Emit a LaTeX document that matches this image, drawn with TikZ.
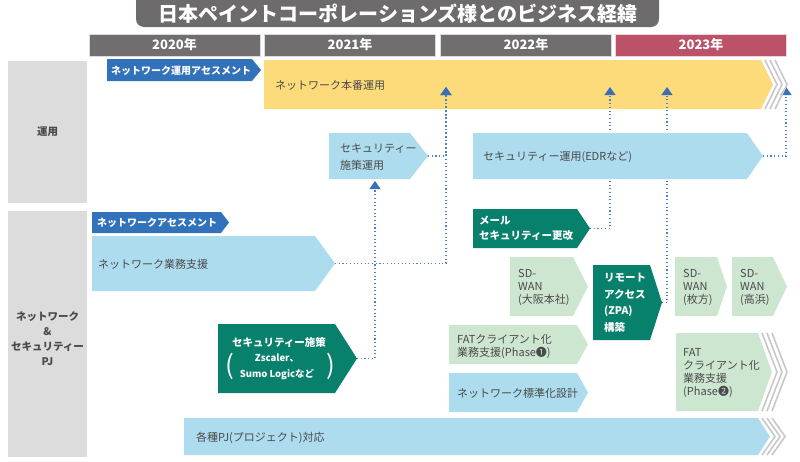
\documentclass[tikz,border=0pt]{standalone}
\usepackage{fontspec}
\setmainfont{Noto Sans CJK JP}
\usetikzlibrary{arrows.meta}

\definecolor{titlegray}{HTML}{6D6B6B}
\definecolor{yeargray}{HTML}{706E6E}
\definecolor{yearred}{HTML}{BB5267}
\definecolor{sidegray}{HTML}{DCDCDC}
\definecolor{opsyellow}{HTML}{FDDB7A}
\definecolor{skyblue}{HTML}{ADDCEE}
\definecolor{deepgreen}{HTML}{07806C}
\definecolor{palegreen}{HTML}{CDE6D0}
\definecolor{assessblue}{HTML}{3272BA}
\definecolor{chevgray}{HTML}{C8C8C8}
\definecolor{linkblue}{HTML}{4A7FCA}
\definecolor{markblue}{HTML}{3A6FB8}
\definecolor{txt}{HTML}{4A4A4A}

\pgfdeclarelayer{back}
\pgfdeclarelayer{mid}
\pgfsetlayers{back,mid,main}

% pentagon arrow box: style, tip name, left x, top y, body right x, tip x, bottom y
\newcommand\pentbox[7]{%
  \fill[#1] (#3,#4) -- (#5,#4) -- (#6,{(#4+#7)/2}) -- (#5,#7) -- (#3,#7) -- cycle;
  \coordinate (#2) at (#6,{(#4+#7)/2});}
% three trailing chevrons: first x, top y, bottom y, tip offset
\newcommand\chevrons[4]{%
  \foreach \k in {0,1,2}{%
    \draw[chevline] ({#1+5*\k},#2) -- ({#1+5*\k+#4},{(#2+#3)/2}) -- ({#1+5*\k},#3);}}

% multi-line labels are placed by the baseline of their last line
\tikzset{
  year/.style={fill=#1, draw=white!75!#1, line width=0.8pt, minimum width=171pt,
    minimum height=22pt, inner sep=0pt, text=white,
    font=\bfseries\fontsize{13}{13}\selectfont},
  side/.style={fill=sidegray, inner sep=0pt},
  sidetext/.style={text=txt, align=center, inner sep=0pt,
    font=\bfseries\fontsize{10.5}{15}\selectfont},
  lbl/.style={text=txt, inner sep=0pt, align=left, anchor=base west,
    font=\fontsize{11}{13}\selectfont},
  wlbl/.style={text=white, inner sep=0pt, align=left, anchor=base west,
    font=\bfseries\fontsize{10.5}{15}\selectfont},
  chevline/.style={draw=chevgray, line width=1.6pt},
  link/.style={draw=linkblue, line width=1.1pt, dash pattern=on 1.1pt off 2.6pt,
    -{Triangle[width=11pt,length=8pt,fill=markblue,color=markblue]}},
}

\begin{document}
\begin{tikzpicture}[x=1pt,y=-1pt]
\useasboundingbox (0,0) rectangle (800,461);

% title tab
\fill[titlegray, rounded corners=8pt] (136,0) |- (659,27) -- (659,0);
\node[text=white, inner sep=0pt, anchor=base, font=\bfseries\fontsize{20}{20}\selectfont]
  (title) at (398,21.5) {日本ペイントコーポレーションズ様とのビジネス経緯};

% year header
\node[year=yeargray] (y2020) at (174.5,45) {2020年};
\node[year=yeargray] (y2021) at (350,45) {2021年};
\node[year=yeargray] (y2022) at (526,45) {2022年};
\node[year=yearred]  (y2023) at (701,45) {2023年};

% row labels
\node[side, minimum width=79pt, minimum height=142pt] (rowops) at (47.5,132) {};
\node[sidetext] (rowopslbl) at (47.5,132) {運用};
\node[side, minimum width=79pt, minimum height=246pt] (rowpj) at (47.5,334) {};
\node[sidetext] (rowpjlbl) at (47.5,339) {ネットワーク\\\&\\セキュリティー\\PJ};

% production operation bar
\begin{pgfonlayer}{back}
\pentbox{opsyellow}{prod}{264}{60}{761}{773}{109}
\node[lbl] (prodlbl) at (275,89) {ネットワーク本番運用};
\end{pgfonlayer}
\chevrons{765}{60}{109}{12}
\coordinate (m1) at (446,87);
\coordinate (m2) at (610,87);
\coordinate (m3) at (667,87);
\coordinate (m4) at (786,87);

% assessments
\pentbox{assessblue}{opsassess}{107}{59}{252}{261}{81}
\node[wlbl, font=\bfseries\fontsize{10}{10}\selectfont] (opsassesslbl) at (111,74) {ネットワーク運用アセスメント};
\pentbox{assessblue}{nwassess}{92}{212}{221}{229}{233}
\node[wlbl, font=\bfseries\fontsize{10}{10}\selectfont] (nwassesslbl) at (97,226) {ネットワークアセスメント};

% security operation
\pentbox{skyblue}{secpol}{329}{133}{410}{428}{179}
\node[lbl, font=\fontsize{11}{17}\selectfont] (secpollbl) at (340,169) {セキュリティー\\施策運用};
\coordinate (m0) at (375,181);
\pentbox{skyblue}{edr}{473}{133}{747}{763}{179}
\node[lbl] (edrlbl) at (483,160) {セキュリティー運用(EDRなど)};

% network support
\pentbox{skyblue}{nwsup}{92}{236}{315}{335}{291}
\node[lbl] (nwsuplbl) at (98,268) {ネットワーク業務支援};

% mail security
\pentbox{deepgreen}{mail}{473}{209}{577}{590}{248}
\node[wlbl] (maillbl) at (479,239) {メール\\セキュリティー更改};

% security measures
\pentbox{deepgreen}{secmeas}{218}{324}{335}{357}{393}
\node[text=white, inner sep=0pt, anchor=base, font=\bfseries\fontsize{10.5}{10.5}\selectfont]
  (secmeaslbl) at (279,346) {セキュリティー施策};
\node[text=white, inner sep=0pt, anchor=base, align=center, font=\bfseries\fontsize{9.5}{16}\selectfont]
  (secmeasdet) at (277,377) {Zscaler、\\Sumo Logicなど};
\node[text=white, inner sep=0pt, font=\fontsize{26}{26}\selectfont] (lpar) at (230,366) {(};
\node[text=white, inner sep=0pt, font=\fontsize{26}{26}\selectfont] (rpar) at (331,366) {)};

% SD-WAN and remote access
\pentbox{palegreen}{sdosaka}{510}{257}{573}{588}{316}
\node[lbl] (sdosakalbl) at (518,303) {SD-\\WAN\\(大阪本社)};
\pentbox{deepgreen}{remote}{593}{265}{650}{662}{340}
\node[wlbl, font=\bfseries\fontsize{10.5}{16.5}\selectfont] (remotelbl) at (604,331) {リモート\\アクセス\\(ZPA)\\構築};
\pentbox{palegreen}{sdhira}{675}{257}{717}{727}{316}
\node[lbl] (sdhiralbl) at (683,303) {SD-\\WAN\\(枚方)};
\pentbox{palegreen}{sdtaka}{732}{257}{773}{787}{316}
\node[lbl] (sdtakalbl) at (740,303) {SD-\\WAN\\(高浜)};

% FAT client and standardisation
\pentbox{palegreen}{fatone}{449}{325}{577}{588}{364}
\node[lbl] (fatonelbl) at (457,356) {FATクライアント化\\業務支援(Phase❶)};
\pentbox{skyblue}{stdz}{449}{373}{577}{588}{412}
\node[lbl] (stdzlbl) at (457,397) {ネットワーク標準化設計};
\pentbox{palegreen}{fattwo}{676}{333}{758}{772}{411}
\node[lbl] (fattwolbl) at (683,395) {FAT\\クライアント化\\業務支援\\(Phase❷)};
\chevrons{762}{333}{411}{15}

% project support
\pentbox{skyblue}{pj}{184}{418}{758}{770}{455}
\node[lbl] (pjlbl) at (196,441) {各種PJ(プロジェクト)対応};
\chevrons{762}{418}{455}{13}

% dotted links into the timeline
\begin{pgfonlayer}{mid}
\draw[link] (secpol) -| (m1);
\draw[link] (nwsup) -| (m1);
\draw[link] (secmeas) -| (m0);
\draw[link] (mail) -| (m2);
\draw[link] (remote) -| (m3);
\draw[link] (edr) -| (m4);
\end{pgfonlayer}
\end{tikzpicture}
\end{document}
